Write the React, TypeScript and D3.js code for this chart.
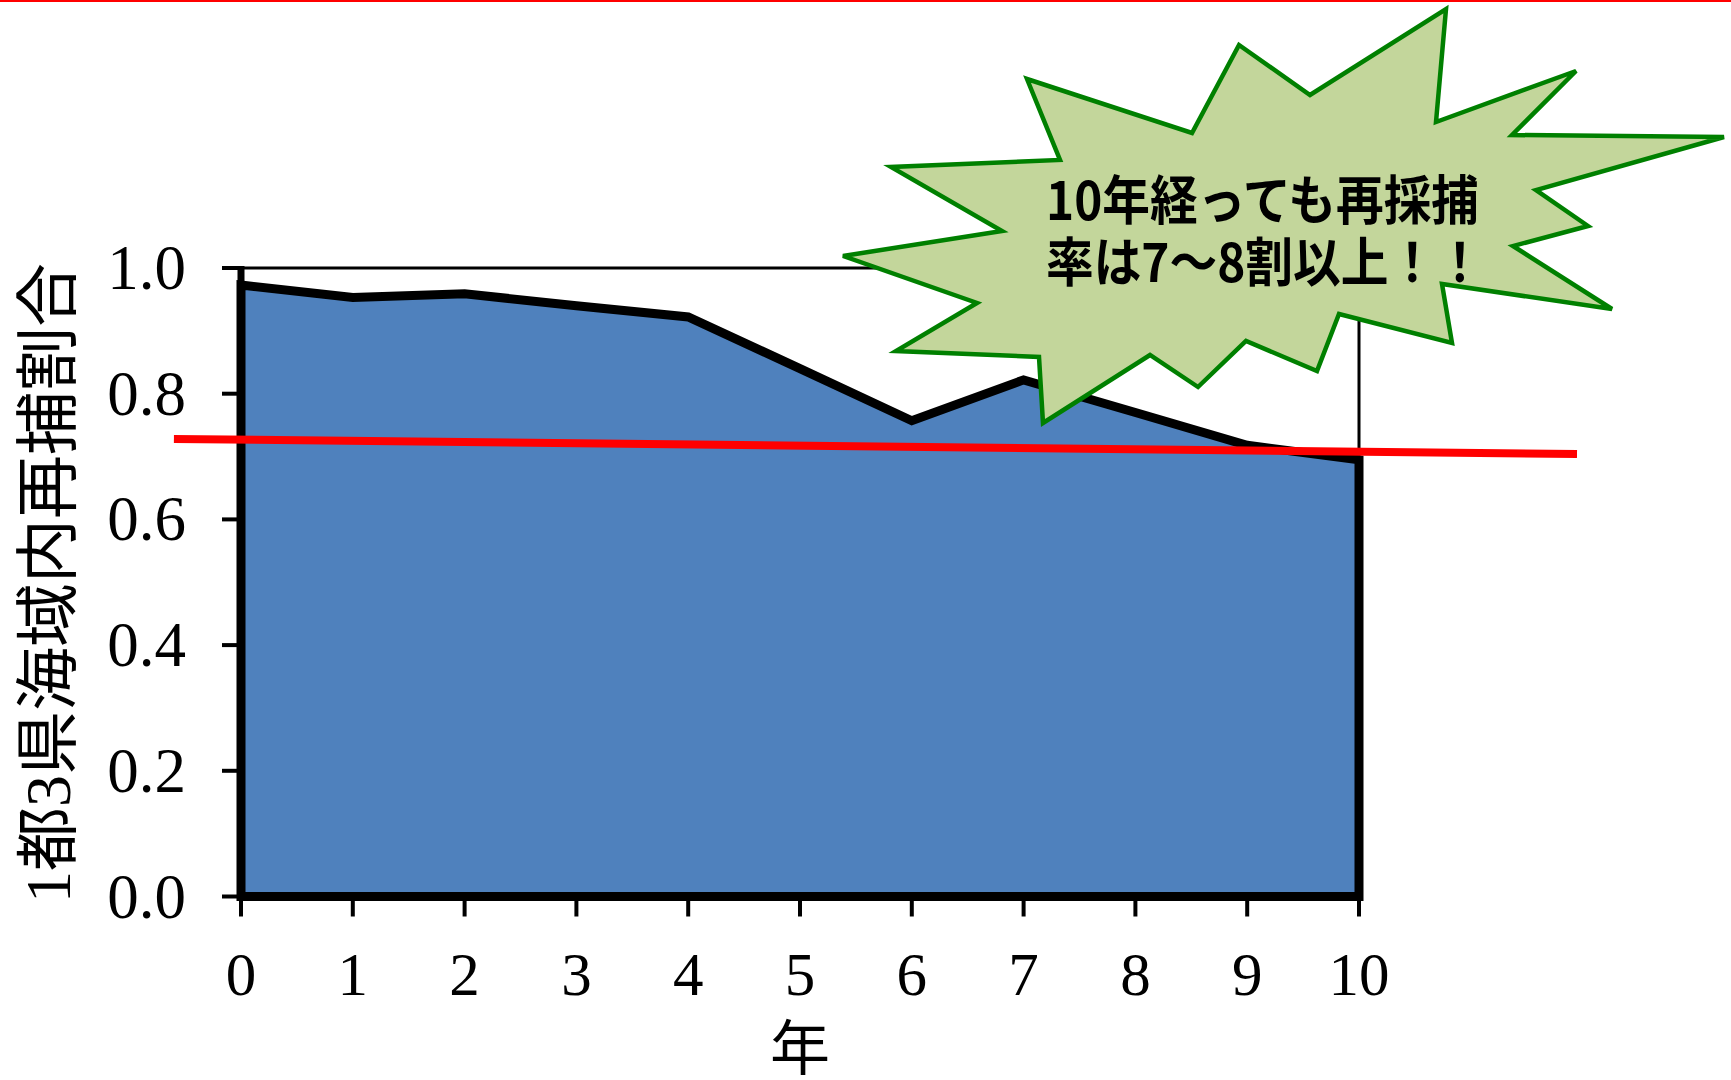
import React, { useRef, useEffect } from 'react';
import * as d3 from 'd3';

// years after release and share recaptured inside the 1都3県 waters
const years = [0, 1, 2, 3, 4, 5, 6, 7, 8, 9, 10];
const recaptureRatio = [0.973, 0.953, 0.959, 0.94, 0.922, 0.84, 0.757, 0.822, 0.77, 0.718, 0.695];
const yTicks = [0, 0.2, 0.4, 0.6, 0.8, 1.0];

// approximate linear trend (red line), in data units
const trendX = [-0.6, 11.95];
const trendY = [0.728, 0.704];

const yAxisTitle = '1都3県海域内再捕割合';
const xAxisTitle = '年';
const calloutLines = ['10年経っても再採捕', '率は7～8割以上！！'];

// outline of the starburst callout, in page pixels
const burstPoints = [
    [1027, 79], [1192, 133], [1239, 45], [1310, 95], [1446, 9], [1436, 122],
    [1576, 71], [1512, 135], [1724, 137], [1536, 190], [1588, 226], [1513, 246],
    [1612, 309], [1442, 284], [1452, 343], [1339, 314], [1317, 371], [1246, 341],
    [1198, 387], [1150, 355], [1043, 423], [1039, 357], [896, 351], [977, 303],
    [843, 256], [1002, 231], [891, 167], [1060, 160],
];

const W = 1731;
const H = 1080;

const App = () => {
    const ref = useRef(null);

    useEffect(() => {
        const svg = d3.select(ref.current);
        svg.selectAll('*').remove();

        const x = d3.scaleLinear().domain([0, 10]).range([241, 1359]);
        const y = d3.scaleLinear().domain([0, 1]).range([896.5, 268]);

        svg.append('rect').attr('width', W).attr('height', H).attr('fill', '#fff');
        svg.append('rect').attr('x', 0).attr('y', 0).attr('width', W).attr('height', 2).attr('fill', '#ff0000');

        // plot frame (top and right)
        svg.append('path')
            .attr('d', `M${x(0)},${y(1)}H${x(10)}V${y(0)}`)
            .attr('fill', 'none')
            .attr('stroke', '#000')
            .attr('stroke-width', 3);

        const pts = years.map((yr, i) => [yr, recaptureRatio[i]]);

        const area = d3.area()
            .x(d => x(d[0]))
            .y0(y(0))
            .y1(d => y(d[1]));

        svg.append('path')
            .datum(pts)
            .attr('d', area)
            .attr('fill', '#4f81bd')
            .attr('stroke', '#000')
            .attr('stroke-width', 9)
            .attr('stroke-linejoin', 'miter');

        // y axis line and ticks
        svg.append('line')
            .attr('x1', x(0)).attr('x2', x(0))
            .attr('y1', y(1) - 2).attr('y2', y(0))
            .attr('stroke', '#000').attr('stroke-width', 7);

        svg.selectAll('.ytick')
            .data(yTicks)
            .enter().append('line')
            .attr('x1', x(0) - 19).attr('x2', x(0))
            .attr('y1', d => y(d)).attr('y2', d => y(d))
            .attr('stroke', '#000').attr('stroke-width', 4);

        svg.selectAll('.ylab')
            .data(yTicks)
            .enter().append('text')
            .attr('x', 186)
            .attr('y', d => y(d) + 21)
            .attr('text-anchor', 'end')
            .attr('font-family', '"Liberation Serif", "Times New Roman", serif')
            .attr('font-size', 63)
            .attr('fill', '#000')
            .text(d => d.toFixed(1));

        // x ticks and labels
        svg.selectAll('.xtick')
            .data(years)
            .enter().append('line')
            .attr('x1', d => x(d)).attr('x2', d => x(d))
            .attr('y1', y(0)).attr('y2', y(0) + 20)
            .attr('stroke', '#000').attr('stroke-width', 4);

        svg.selectAll('.xlab')
            .data(years)
            .enter().append('text')
            .attr('x', d => x(d))
            .attr('y', 995)
            .attr('text-anchor', 'middle')
            .attr('font-family', '"Liberation Serif", "Times New Roman", serif')
            .attr('font-size', 61)
            .attr('fill', '#000')
            .text(d => d);

        // trend line
        svg.append('line')
            .attr('x1', x(trendX[0])).attr('y1', y(trendY[0]))
            .attr('x2', x(trendX[1])).attr('y2', y(trendY[1]))
            .attr('stroke', '#ff0000')
            .attr('stroke-width', 8);

        // axis titles
        svg.append('text')
            .attr('transform', 'translate(70,583) rotate(-90)')
            .attr('text-anchor', 'middle')
            .attr('font-family', '"Liberation Serif", "Noto Sans CJK JP", serif')
            .attr('font-size', 64)
            .attr('fill', '#000')
            .text(yAxisTitle);

        svg.append('text')
            .attr('x', 800)
            .attr('y', 1070)
            .attr('text-anchor', 'middle')
            .attr('font-family', '"Noto Sans CJK JP", sans-serif')
            .attr('font-size', 60)
            .attr('fill', '#000')
            .text(xAxisTitle);

        // starburst callout
        svg.append('polygon')
            .attr('points', burstPoints.map(p => p.join(',')).join(' '))
            .attr('fill', '#c3d69b')
            .attr('stroke', '#008000')
            .attr('stroke-width', 4.5)
            .attr('stroke-linejoin', 'miter');

        // condensed bold text, like the original gothic face
        svg.selectAll('.callout')
            .data(calloutLines)
            .enter().append('text')
            .attr('transform', (d, i) => `translate(1046,${220 + i * 62}) scale(0.9,1)`)
            .attr('font-family', '"Noto Sans CJK JP", sans-serif')
            .attr('font-weight', 700)
            .attr('font-size', 53)
            .attr('fill', '#000')
            .text(d => d);
    }, []);

    return <svg ref={ref} width={W} height={H} style={{ position: 'absolute', left: 0, top: 0 }}></svg>;
};

export default App;
